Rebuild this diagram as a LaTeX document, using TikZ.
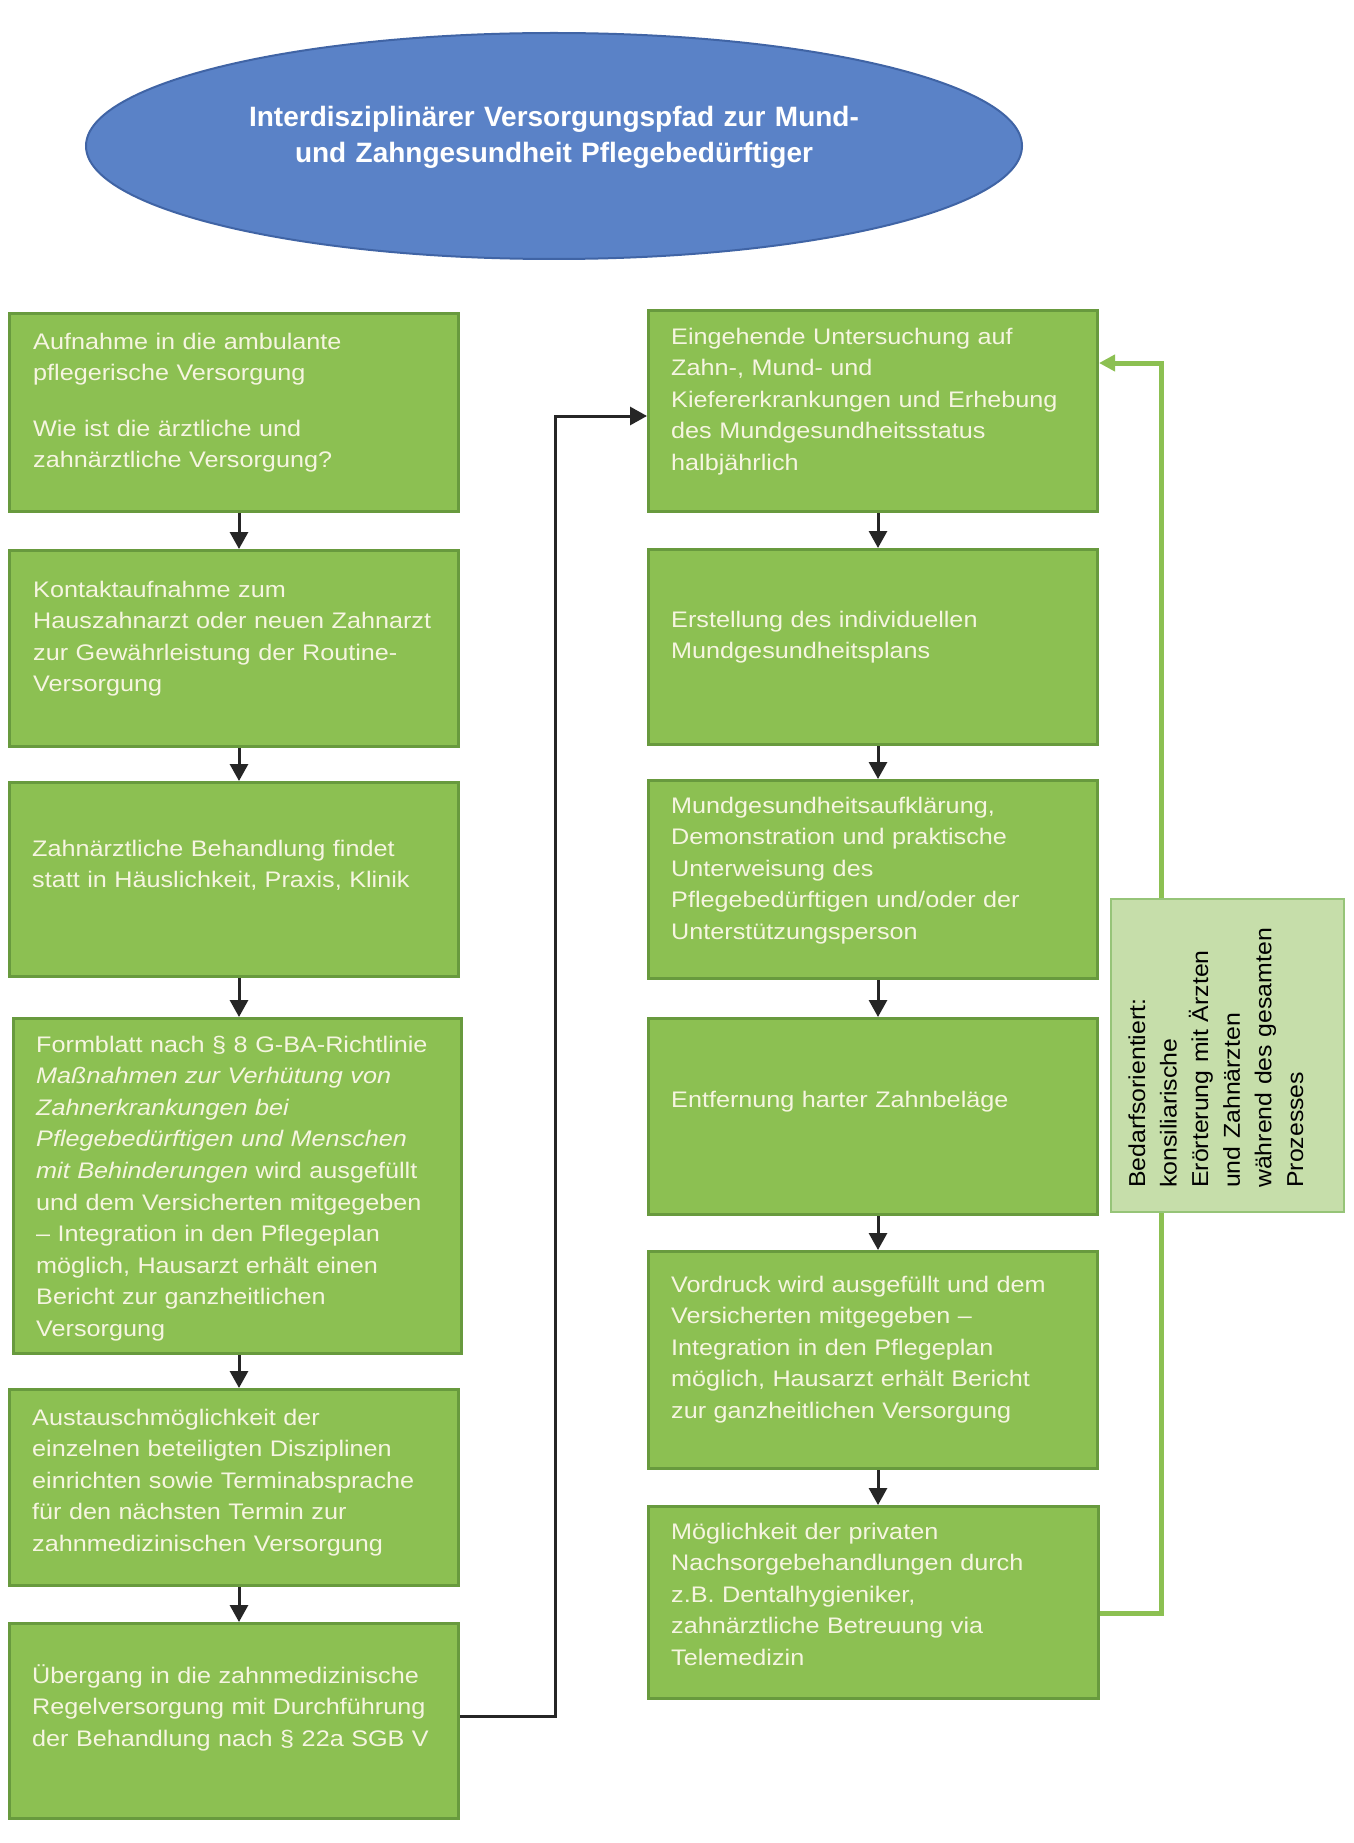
\documentclass[tikz,border=0pt]{standalone}
\usepackage{fontspec}
\setmainfont{Liberation Sans}
\newfontfamily\kastenfont{Liberation Sans}[FakeStretch=1.12]
\newfontfamily\seitenfont{Liberation Sans}[FakeStretch=1.08]
\usetikzlibrary{positioning,calc}
\usetikzlibrary{arrows.meta,shapes.geometric}

\definecolor{gruen}{RGB}{140,192,82}
\definecolor{gruenrand}{RGB}{104,154,62}
\definecolor{hellgruen}{RGB}{198,222,170}
\definecolor{hellgruenrand}{RGB}{150,196,120}
\definecolor{blau}{RGB}{90,130,199}
\definecolor{blaurand}{RGB}{64,100,165}
\definecolor{schrift}{RGB}{246,245,225}

\tikzset{
	kasten/.style={rectangle, draw=gruenrand, fill=gruen, line width=3pt, inner sep=0pt, anchor=north west, minimum width=449pt},
	kastentext/.style={anchor=base west, inner sep=0pt, text width=480pt, align=left, text=schrift, font=\kastenfont\fontsize{22.5}{31.6}\selectfont},
	pfeil/.style={line width=3pt, draw=black!85, -{Triangle[length=17pt,width=18pt]}},
	rueck/.style={line width=5pt, draw=gruen, -{Triangle[length=16pt,width=16pt]}}
}

\begin{document}
\begin{tikzpicture}[x=1pt, y=-1pt]
\path[use as bounding box, fill=white] (0,0) rectangle (1353,1843);

% Titel
\node[ellipse, draw=blaurand, fill=blau, line width=2pt, inner sep=0pt, minimum width=936pt, minimum height=226pt] (kopf) at (554,146) {};
\node[anchor=base, inner sep=0pt, text width=800pt, align=center, text=white, font=\bfseries\fontsize{28}{36}\selectfont] (kopftext) at (554,127) {Interdisziplinärer Versorgungspfad zur Mund-\\und Zahngesundheit Pflegebedürftiger};

% linke Spalte
\node[kasten, minimum height=198pt] (aufnahme) at (8,312) {};
\node[kastentext] (aufnahmetext) at ([shift={(25,37)}]aufnahme.north west) {Aufnahme in die ambulante\\pflegerische Versorgung\\[24pt]Wie ist die ärztliche und\\zahnärztliche Versorgung?};

\node[kasten, minimum height=196pt] (kontakt) at (8,549) {};
\node[kastentext] (kontakttext) at ([shift={(25,48)}]kontakt.north west) {Kontaktaufnahme zum\\Hauszahnarzt oder neuen Zahnarzt\\zur Gewährleistung der Routine-\\Versorgung};

\node[kasten, minimum height=194pt] (behandlung) at (8,781) {};
\node[kastentext] (behandlungtext) at ([shift={(24,75)}]behandlung.north west) {Zahnärztliche Behandlung findet\\statt in Häuslichkeit, Praxis, Klinik};

\node[kasten, minimum height=335pt, minimum width=448pt] (formblatt) at (12,1017) {};
\node[kastentext] (formblatttext) at ([shift={(24,35)}]formblatt.north west) {Formblatt nach § 8 G-BA-Richtlinie\\\textit{Maßnahmen zur Verhütung von}\\\textit{Zahnerkrankungen bei}\\\textit{Pflegebedürftigen und Menschen}\\\textit{mit Behinderungen} wird ausgefüllt\\und dem Versicherten mitgegeben\\– Integration in den Pflegeplan\\möglich, Hausarzt erhält einen\\Bericht zur ganzheitlichen\\Versorgung};

\node[kasten, minimum height=196pt] (austausch) at (8,1388) {};
\node[kastentext] (austauschtext) at ([shift={(24,37)}]austausch.north west) {Austauschmöglichkeit der\\einzelnen beteiligten Disziplinen\\einrichten sowie Terminabsprache\\für den nächsten Termin zur\\zahnmedizinischen Versorgung};

\node[kasten, minimum height=195pt] (uebergang) at (8,1622) {};
\node[kastentext] (uebergangtext) at ([shift={(24,61)}]uebergang.north west) {Übergang in die zahnmedizinische\\Regelversorgung mit Durchführung\\der Behandlung nach § 22a SGB V};

% rechte Spalte
\node[kasten, minimum height=201pt] (untersuchung) at (647,309) {};
\node[kastentext] (untersuchungtext) at ([shift={(24,35)}]untersuchung.north west) {Eingehende Untersuchung auf\\Zahn-, Mund- und\\Kiefererkrankungen und Erhebung\\des Mundgesundheitsstatus\\halbjährlich};

\node[kasten, minimum height=195pt] (plan) at (647,548) {};
\node[kastentext] (plantext) at ([shift={(24,79)}]plan.north west) {Erstellung des individuellen\\Mundgesundheitsplans};

\node[kasten, minimum height=198pt] (aufklaerung) at (647,779) {};
\node[kastentext] (aufklaerungtext) at ([shift={(24,34)}]aufklaerung.north west) {Mundgesundheitsaufklärung,\\Demonstration und praktische\\Unterweisung des\\Pflegebedürftigen und/oder der\\Unterstützungsperson};

\node[kasten, minimum height=196pt] (entfernung) at (647,1017) {};
\node[kastentext] (entfernungtext) at ([shift={(24,90)}]entfernung.north west) {Entfernung harter Zahnbeläge};

\node[kasten, minimum height=217pt] (vordruck) at (647,1250) {};
\node[kastentext] (vordrucktext) at ([shift={(24,42)}]vordruck.north west) {Vordruck wird ausgefüllt und dem\\Versicherten mitgegeben –\\Integration in den Pflegeplan\\möglich, Hausarzt erhält Bericht\\zur ganzheitlichen Versorgung};

\node[kasten, minimum height=192pt, minimum width=450pt] (nachsorge) at (647,1505) {};
\node[kastentext] (nachsorgetext) at ([shift={(24,34)}]nachsorge.north west) {Möglichkeit der privaten\\Nachsorgebehandlungen durch\\z.B. Dentalhygieniker,\\zahnärztliche Betreuung via\\Telemedizin};

% Pfeile
\draw[pfeil] ([xshift=5pt]aufnahme.south) -- ([xshift=5pt]kontakt.north);
\draw[pfeil] ([xshift=5pt]kontakt.south) -- ([xshift=5pt]behandlung.north);
\draw[pfeil] ([xshift=5pt]behandlung.south) -- ([xshift=5pt]behandlung.south |- formblatt.north);
\draw[pfeil] ([xshift=5pt]behandlung.south |- formblatt.south) -- ([xshift=5pt]austausch.north);
\draw[pfeil] ([xshift=5pt]austausch.south) -- ([xshift=5pt]uebergang.north);
\draw[pfeil] ([yshift=5pt]uebergang.east) -- ++(95,0) |- ([yshift=-5pt]untersuchung.west);

\draw[pfeil] ([xshift=5pt]untersuchung.south) -- ([xshift=5pt]plan.north);
\draw[pfeil] ([xshift=5pt]plan.south) -- ([xshift=5pt]aufklaerung.north);
\draw[pfeil] ([xshift=5pt]aufklaerung.south) -- ([xshift=5pt]entfernung.north);
\draw[pfeil] ([xshift=5pt]entfernung.south) -- ([xshift=5pt]vordruck.north);
\draw[pfeil] ([xshift=5pt]vordruck.south) -- ([xshift=5pt]vordruck.south |- nachsorge.north);

% Rueckkopplung
\draw[rueck] ([yshift=-11pt]nachsorge.east) -- ++(61,0) |- ([yshift=-54pt]untersuchung.north east);

\node[rectangle, draw=hellgruenrand, fill=hellgruen, line width=2pt, inner sep=0pt, anchor=north west, minimum width=233pt, minimum height=313pt] (seite) at (1110,898) {};
\node[rotate=90, anchor=base west, inner sep=0pt, text width=320pt, align=left, font=\seitenfont\fontsize{23}{31.6}\selectfont] (seitentext) at (1145,1188) {Bedarfsorientiert:\\konsiliarische\\Erörterung mit Ärzten\\und Zahnärzten\\während des gesamten\\Prozesses};

\end{tikzpicture}
\end{document}
